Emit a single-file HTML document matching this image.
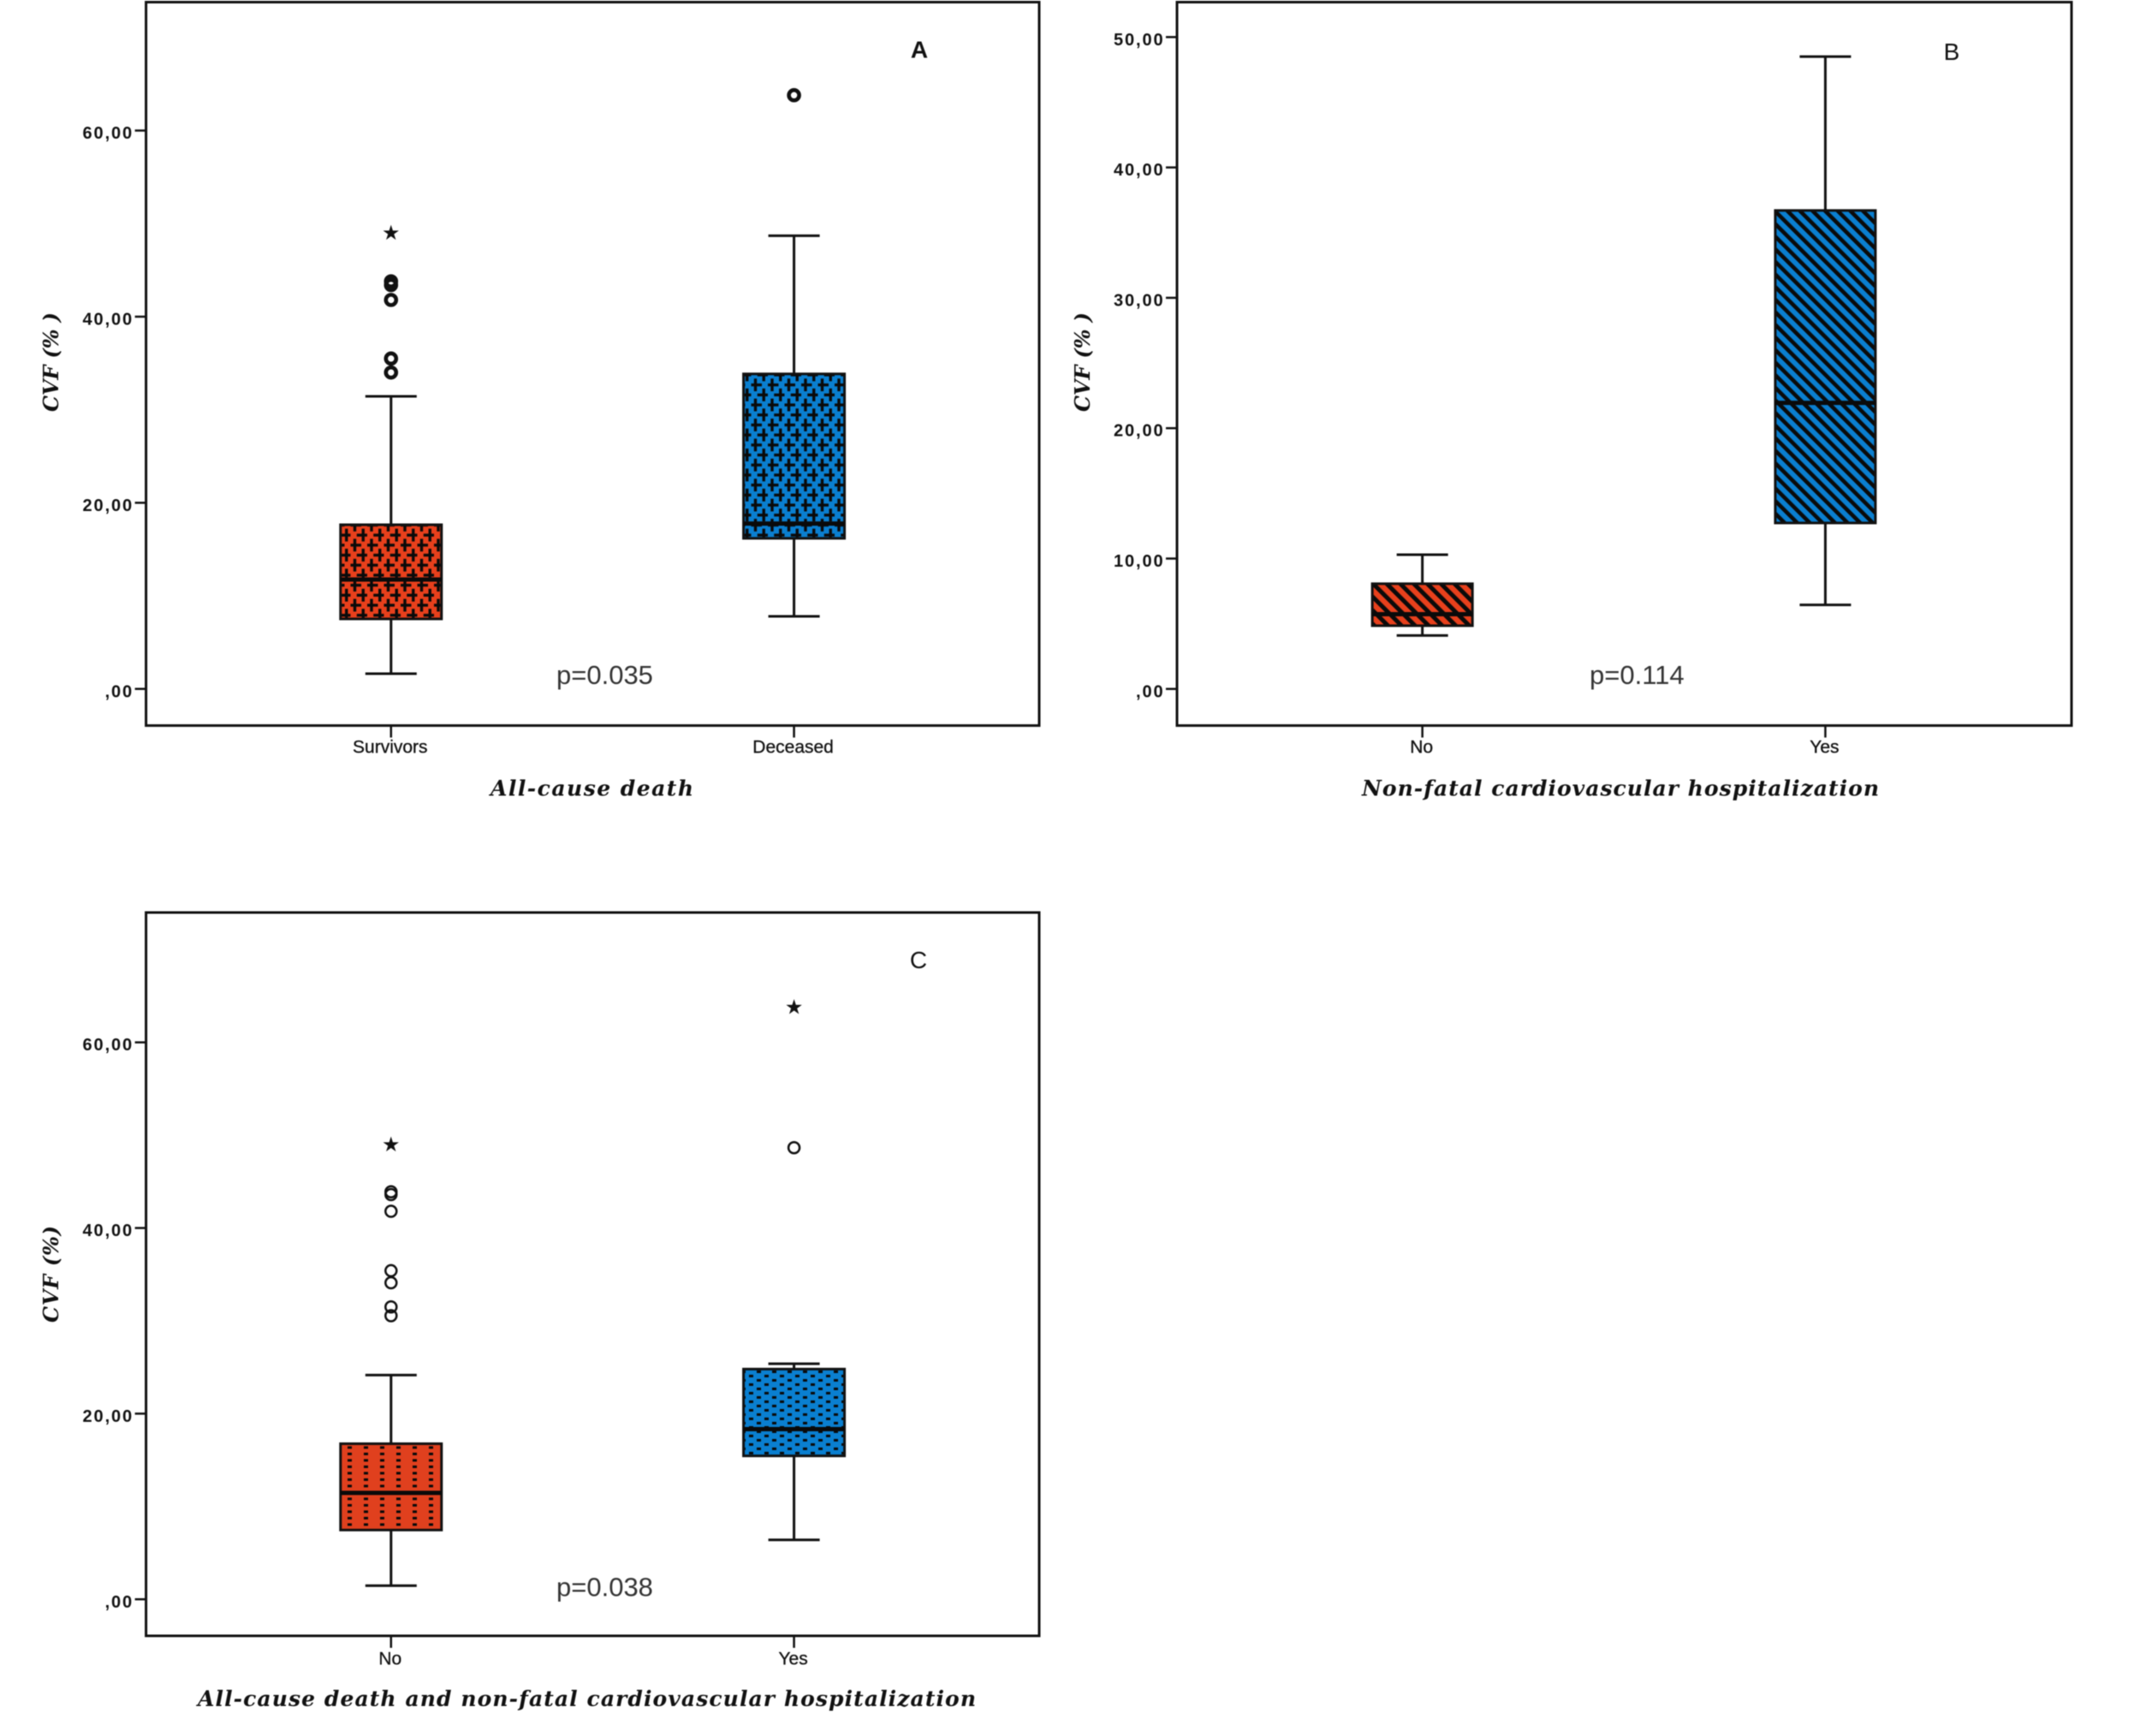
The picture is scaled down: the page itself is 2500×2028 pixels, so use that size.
<!DOCTYPE html>
<html lang="en">
<head>
<meta charset="utf-8">
<title>CVF boxplots</title>
<style>
html,body{margin:0;padding:0;background:#fff;width:2500px;height:2028px;overflow:hidden}
svg{display:block;filter:blur(0.6px)}
.tick{font:bold 20px "Liberation Sans",sans-serif;letter-spacing:1.9px;fill:#111}
.cat{font:21px "Liberation Sans",sans-serif;fill:#111;stroke:#111;stroke-width:0.3px}
.title{font:italic bold 25px "DejaVu Serif","Liberation Serif",serif;fill:#111}
.ytitle{font:italic bold 24px "DejaVu Serif","Liberation Serif",serif;fill:#111}
.pval{font:31px "Liberation Sans",sans-serif;fill:#333}
.letter{font:bold 28px "Liberation Sans",sans-serif;fill:#111}
.star{font:24px "DejaVu Sans",sans-serif;fill:#111;text-anchor:middle}
</style>
</head>
<body>
<svg id="figure" xmlns="http://www.w3.org/2000/svg" width="2500" height="2028" viewBox="0 0 2500 2028">
<defs>
<pattern id="cross-red" patternUnits="userSpaceOnUse" width="19.5" height="23.4">
<rect width="19.5" height="23.4" fill="#e8401c"/>
<path d="M5 -2.5V12.5M-2.5 5H12.5M14.75 9.2V24.2M7.25 16.7H22.25M14.75 -14.2V0.8M5 21V36M-2.5 28.4H12.5" stroke="#0a0a0a" stroke-width="3.4" fill="none"/>
</pattern>
<pattern id="cross-blue" patternUnits="userSpaceOnUse" width="19.5" height="23.4">
<rect width="19.5" height="23.4" fill="#0a7fd0"/>
<path d="M5 -2.5V12.5M-2.5 5H12.5M14.75 9.2V24.2M7.25 16.7H22.25M14.75 -14.2V0.8M5 21V36M-2.5 28.4H12.5" stroke="#0a0a0a" stroke-width="3.4" fill="none"/>
</pattern>
<pattern id="hatch-red" patternUnits="userSpaceOnUse" width="11.2" height="11.2" patternTransform="rotate(-45)">
<rect width="11.2" height="11.2" fill="#e8401c"/>
<rect width="5" height="11.2" fill="#0a0a0a"/>
</pattern>
<pattern id="hatch-blue" patternUnits="userSpaceOnUse" width="10.4" height="10.4" patternTransform="rotate(-45)">
<rect width="10.4" height="10.4" fill="#0a7fd0"/>
<rect width="4.6" height="10.4" fill="#0a0a0a"/>
</pattern>
<pattern id="dots-red" patternUnits="userSpaceOnUse" width="19" height="7.5">
<rect width="19" height="7.5" fill="#e0401e"/>
<rect x="7" y="2" width="5" height="3" fill="#0a0a0a"/>
</pattern>
<pattern id="dots-blue" patternUnits="userSpaceOnUse" width="18" height="10">
<rect width="18" height="10" fill="#0a7fd0"/>
<rect x="2" y="1" width="5" height="3" fill="#0a0a0a"/>
<rect x="11" y="6" width="5" height="3" fill="#0a0a0a"/>
</pattern>
</defs>
</svg>
<script>
// Panel A values
const panelACategories = ['Survivors', 'Deceased'];
const panelALowWhisker = [1.64, 7.8];
const panelAQ1 = [7.52, 16.18];
const panelAMedian = [11.75, 17.77];
const panelAQ3 = [17.64, 33.85];
const panelAHighWhisker = [31.44, 48.7];
const panelACircles = [[43.8, 43.4, 41.8, 35.5, 34.0], [63.8]];
const panelAStars = [[49.1], []];
const panelATicks = [0, 20, 40, 60];
const panelATickLabels = [',00', '20,00', '40,00', '60,00'];

// Panel B values
const panelBCategories = ['No', 'Yes'];
const panelBLowWhisker = [4.1, 6.45];
const panelBQ1 = [4.85, 12.73];
const panelBMedian = [5.73, 21.94];
const panelBQ3 = [8.07, 36.7];
const panelBHighWhisker = [10.3, 48.5];
const panelBTicks = [0, 10, 20, 30, 40, 50];
const panelBTickLabels = [',00', '10,00', '20,00', '30,00', '40,00', '50,00'];

// Panel C values
const panelCCategories = ['No', 'Yes'];
const panelCLowWhisker = [1.47, 6.4];
const panelCQ1 = [7.46, 15.45];
const panelCMedian = [11.46, 18.33];
const panelCQ3 = [16.76, 24.8];
const panelCHighWhisker = [24.15, 25.38];
const panelCCircles = [[43.9, 43.6, 41.8, 35.4, 34.1, 31.5, 30.55], [48.65]];
const panelCStars = [[49.1], [63.9]];
const panelCTicks = [0, 20, 40, 60];
const panelCTickLabels = [',00', '20,00', '40,00', '60,00'];

const NS = 'http://www.w3.org/2000/svg';
const INK = '#111';

function mk(parent, tag, attrs, text) {
  const el = document.createElementNS(NS, tag);
  for (const k in attrs) el.setAttribute(k, attrs[k]);
  if (text !== undefined) el.textContent = text;
  parent.appendChild(el);
  return el;
}

function drawPanel(p) {
  const svg = document.getElementById('figure');
  const g = mk(svg, 'g', {});
  
  

  const yScale = v => p.bottom - (v - p.yMin) / (p.yMax - p.yMin) * (p.bottom - p.top);
  const xScale = i => p.left + (p.right - p.left) * (0.2743 + i * p.xStep);
  const boxHalf = p.boxHalf;
  const capHalf = 30;

  // whiskers, boxes, medians
  p.categories.forEach((cat, i) => {
    const cx = xScale(i);
    const whisker = mk(g, 'path', {
      d: 'M' + cx + ' ' + yScale(p.low[i]) + 'V' + yScale(p.high[i]) +
         'M' + (cx - capHalf) + ' ' + yScale(p.low[i]) + 'H' + (cx + capHalf) +
         'M' + (cx - capHalf) + ' ' + yScale(p.high[i]) + 'H' + (cx + capHalf),
      stroke: INK, 'stroke-width': 3, fill: 'none'
    });
    
    

    const box = mk(g, 'rect', {
      x: cx - boxHalf, y: yScale(p.q3[i]), width: boxHalf * 2,
      height: yScale(p.q1[i]) - yScale(p.q3[i]),
      fill: 'url(#' + p.pattern + (i === 0 ? '-red' : '-blue') + ')',
      stroke: INK, 'stroke-width': 3
    });
    
    

    const median = mk(g, 'line', {
      x1: cx - boxHalf, x2: cx + boxHalf, y1: yScale(p.median[i]), y2: yScale(p.median[i]),
      stroke: '#0a0a0a', 'stroke-width': 5
    });
    
    

    (p.circles ? p.circles[i] : []).forEach(v => {
      const c = mk(g, 'circle', {
        cx: cx, cy: yScale(v), r: p.circleR, fill: '#fff', 'fill-opacity': 0,
        stroke: INK, 'stroke-width': p.circleStroke
      });
      
      
    });

    (p.stars ? p.stars[i] : []).forEach(v => {
      const s = mk(g, 'text', { x: cx, y: yScale(v) + 9, class: 'star' }, '★');
      
      
    });

    const tick = mk(g, 'line', {
      x1: cx, x2: cx, y1: p.bottom, y2: p.bottom + 14, stroke: INK, 'stroke-width': 2.5
    });
    
    

    const label = mk(g, 'text', {
      x: cx - 1, y: p.bottom + p.catOffset, 'text-anchor': 'middle', class: 'cat'
    }, cat);
    
    
  });

  // frame
  const frame = mk(g, 'rect', {
    x: p.left, y: p.top, width: p.right - p.left, height: p.bottom - p.top,
    fill: 'none', stroke: INK, 'stroke-width': 3
  });
  
  

  // y axis
  p.ticks.forEach((v, i) => {
    const tick = mk(g, 'line', {
      x1: p.left - 13, x2: p.left, y1: yScale(v), y2: yScale(v), stroke: INK, 'stroke-width': 2.5
    });
    
    

    const label = mk(g, 'text', {
      x: p.left - 14.5, y: yScale(v) + 9.5, 'text-anchor': 'end', class: 'tick'
    }, p.tickLabels[i]);
    
    
  });

  // titles and annotations
  const yTitle = mk(g, 'text', {
    class: 'ytitle',
    transform: 'translate(' + p.yTitleX + ' ' + p.yTitleY + ') rotate(-90)',
    textLength: p.yTitleLen, lengthAdjust: 'spacing'
  }, p.yTitle);
  
  

  const xTitle = mk(g, 'text', {
    class: 'title', x: p.xTitleX, y: p.bottom + 82,
    textLength: p.xTitleLen, lengthAdjust: 'spacing'
  }, p.xTitle);
  
  

  const pVal = mk(g, 'text', { class: 'pval', x: p.pX, y: p.pY }, p.pText);
  
  

  const letter = mk(g, 'text', {
    class: 'letter', x: p.letterX, y: p.letterY, 'text-anchor': 'middle'
  }, p.letter);
  letter.style.fontWeight = p.letterWeight;
  
  
}

drawPanel({
  id: 'a', left: 170.6, right: 1214, top: 2.5, bottom: 847.6, yMin: -3.94, yMax: 73.8,
  xStep: 0.4512, boxHalf: 59, catOffset: 32, circleR: 6, circleStroke: 4.6,
  categories: panelACategories, low: panelALowWhisker, q1: panelAQ1, median: panelAMedian,
  q3: panelAQ3, high: panelAHighWhisker, circles: panelACircles, stars: panelAStars,
  ticks: panelATicks, tickLabels: panelATickLabels, pattern: 'cross',
  yTitle: 'CVF (% )', yTitleX: 68, yTitleY: 481, yTitleLen: 116,
  xTitle: 'All-cause death', xTitleX: 573, xTitleLen: 237,
  pText: 'p=0.035', pX: 650, pY: 799, letter: 'A', letterX: 1074, letterY: 67.5, letterWeight: 'bold'
});

drawPanel({
  id: 'b', left: 1375, right: 2420, top: 2.5, bottom: 847.6, yMin: -2.81, yMax: 52.68,
  xStep: 0.4505, boxHalf: 58.5, catOffset: 32, circleR: 6.5, circleStroke: 3,
  categories: panelBCategories, low: panelBLowWhisker, q1: panelBQ1, median: panelBMedian,
  q3: panelBQ3, high: panelBHighWhisker,
  ticks: panelBTicks, tickLabels: panelBTickLabels, pattern: 'hatch',
  yTitle: 'CVF (% )', yTitleX: 1273, yTitleY: 481, yTitleLen: 116,
  xTitle: 'Non-fatal cardiovascular hospitalization', xTitleX: 1591, xTitleLen: 604,
  pText: 'p=0.114', pX: 1857, pY: 799, letter: 'B', letterX: 2280, letterY: 70, letterWeight: 'normal'
});

drawPanel({
  id: 'c', left: 170.6, right: 1214, top: 1066, bottom: 1911, yMin: -3.94, yMax: 73.99,
  xStep: 0.4512, boxHalf: 59, catOffset: 33.5, circleR: 6.5, circleStroke: 2.5,
  categories: panelCCategories, low: panelCLowWhisker, q1: panelCQ1, median: panelCMedian,
  q3: panelCQ3, high: panelCHighWhisker, circles: panelCCircles, stars: panelCStars,
  ticks: panelCTicks, tickLabels: panelCTickLabels, pattern: 'dots',
  yTitle: 'CVF (%)', yTitleX: 68, yTitleY: 1545, yTitleLen: 113,
  xTitle: 'All-cause death and non-fatal cardiovascular hospitalization', xTitleX: 231, xTitleLen: 909,
  pText: 'p=0.038', pX: 650, pY: 1864.5, letter: 'C', letterX: 1073, letterY: 1131, letterWeight: 'normal'
});
</script>
</body>
</html>
